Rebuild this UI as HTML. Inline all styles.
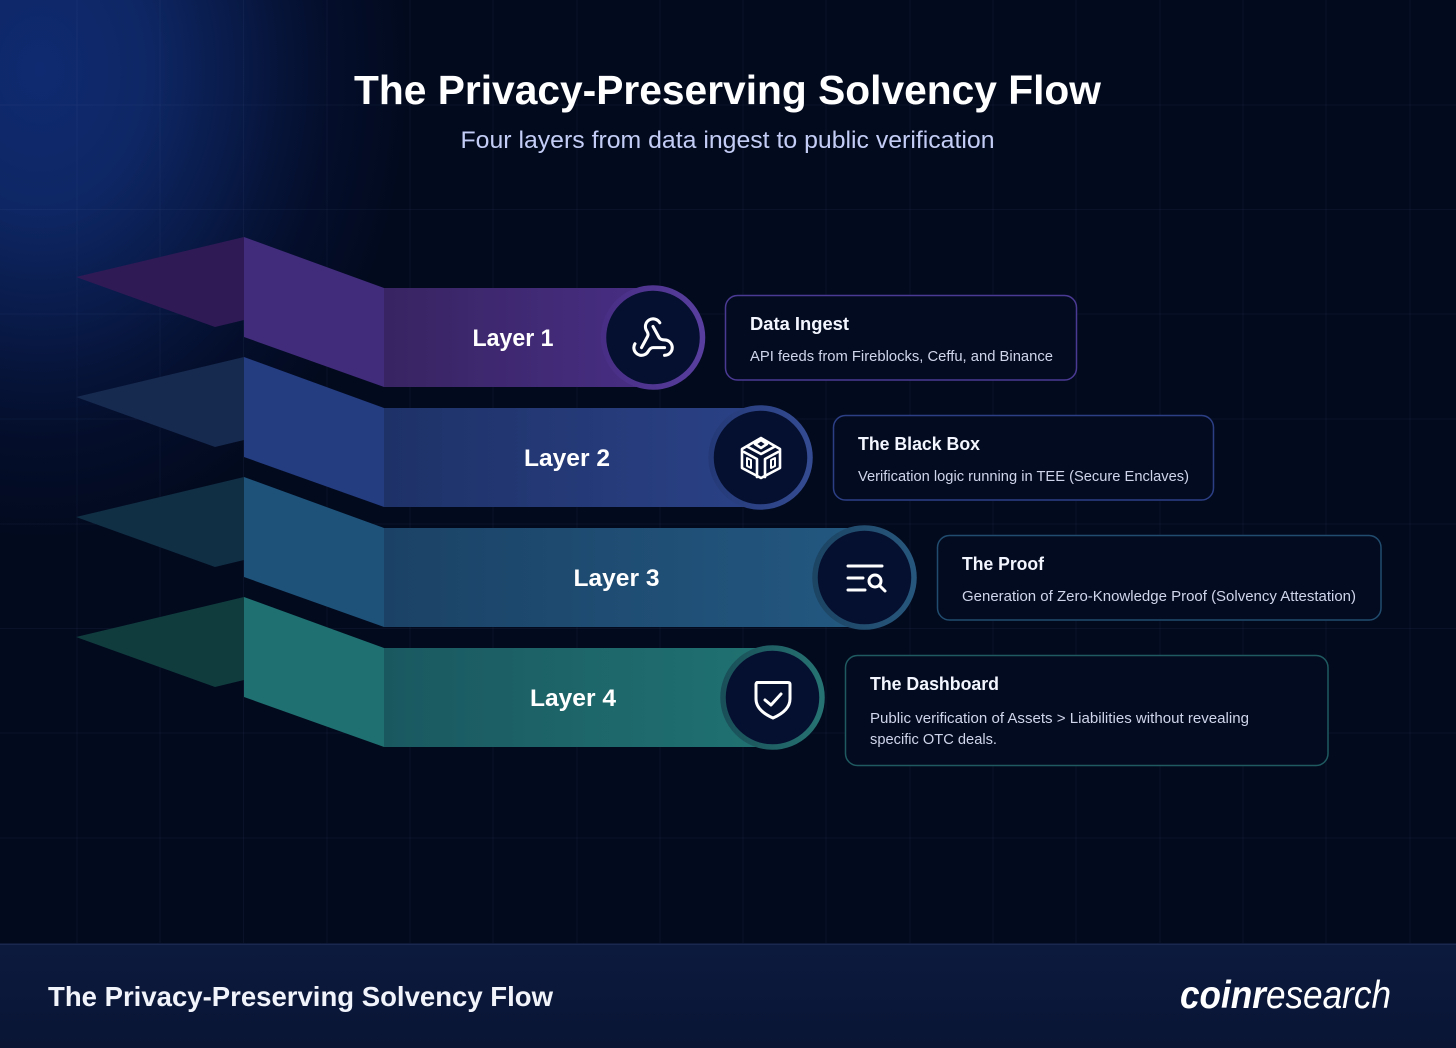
<!DOCTYPE html>
<html><head><meta charset="utf-8"><style>
html,body{margin:0;padding:0;background:#020a1e}
svg{display:block}
text{font-family:"Liberation Sans",sans-serif}
.l{font-size:24px;font-weight:700;fill:#fff;text-anchor:middle}
.t{font-size:18.5px;font-weight:700;fill:#f4f6ff}
.d{font-size:14.5px;fill:#cfd5ea}
.i{fill:none;stroke:#fff;stroke-width:3;stroke-linecap:round;stroke-linejoin:round}
</style></head><body>
<svg width="1456" height="1048" viewBox="0 0 1456 1048" xmlns="http://www.w3.org/2000/svg">
<defs>
<radialGradient id="glow" gradientUnits="userSpaceOnUse" cx="0" cy="0" r="1" gradientTransform="translate(40 70) scale(370 470)">
<stop offset="0" stop-color="#0f2a70"/><stop offset=".3" stop-color="#0f2a6c" stop-opacity=".9"/><stop offset=".55" stop-color="#0d2462" stop-opacity=".6"/><stop offset=".8" stop-color="#0a1a50" stop-opacity=".24"/><stop offset="1" stop-color="#0a1a50" stop-opacity="0"/>
</radialGradient>
<linearGradient id="foot" x1="0" y1="0" x2="0" y2="1"><stop offset="0" stop-color="#0c1a3e"/><stop offset="1" stop-color="#0a1534"/></linearGradient>
<linearGradient id="b1" x1="0" x2="1" y1="0" y2="0"><stop offset="0" stop-color="#382462"/><stop offset="1" stop-color="#482e84"/></linearGradient>
<linearGradient id="b2" x1="0" x2="1" y1="0" y2="0"><stop offset="0" stop-color="#1e3268"/><stop offset="1" stop-color="#2a4186"/></linearGradient>
<linearGradient id="b3" x1="0" x2="1" y1="0" y2="0"><stop offset="0" stop-color="#1b4266"/><stop offset="1" stop-color="#235880"/></linearGradient>
<linearGradient id="b4" x1="0" x2="1" y1="0" y2="0"><stop offset="0" stop-color="#1a5860"/><stop offset="1" stop-color="#207272"/></linearGradient>
<linearGradient id="r1" x1="0" x2="1" y1="0" y2="0"><stop offset="0" stop-color="#482e84"/><stop offset="1" stop-color="#583e9e"/></linearGradient>
<linearGradient id="r2" x1="0" x2="1" y1="0" y2="0"><stop offset="0" stop-color="#243a78"/><stop offset="1" stop-color="#344b92"/></linearGradient>
<linearGradient id="r3" x1="0" x2="1" y1="0" y2="0"><stop offset="0" stop-color="#1c4463"/><stop offset="1" stop-color="#27567c"/></linearGradient>
<linearGradient id="r4" x1="0" x2="1" y1="0" y2="0"><stop offset="0" stop-color="#194f58"/><stop offset="1" stop-color="#267272"/></linearGradient>
</defs>
<rect width="1456" height="1048" fill="#020a1e"/>
<rect width="520" height="560" fill="url(#glow)"/>
<g stroke="#8ea4e0" stroke-opacity=".055" stroke-width="1">
<path d="M77 0V943M160 0V943M243.500 0V943M327 0V943M410 0V943M493 0V943M577 0V943M660 0V943M743 0V943M826 0V943M910 0V943M993 0V943M1076 0V943M1160 0V943M1243 0V943M1326 0V943M1410 0V943"/>
<path d="M0 105H1456M0 209.500H1456M0 314H1456M0 419H1456M0 524H1456M0 628.500H1456M0 733H1456M0 838H1456"/>
</g>

<text x="727.500" y="104" text-anchor="middle" font-size="41" font-weight="700" fill="#fff" textLength="747" lengthAdjust="spacingAndGlyphs">The Privacy-Preserving Solvency Flow</text>
<text x="727.500" y="148" text-anchor="middle" font-size="24" fill="#c3cdf5" textLength="534" lengthAdjust="spacingAndGlyphs">Four layers from data ingest to public verification</text>

<!-- Layer 1 -->
<polygon points="76,277 244,237 244,320 215,327" fill="#2f1a56"/>
<polygon points="244,237 384,288 384,387 244,337" fill="#412b7b"/>
<rect x="384" y="288" width="269" height="99" fill="url(#b1)"/>
<circle cx="653" cy="337.500" r="49.500" fill="#050f30" stroke="url(#r1)" stroke-width="5.500"/>
<text class="l" x="513" y="346" textLength="81" lengthAdjust="spacingAndGlyphs">Layer 1</text>
<g class="i" transform="translate(630 315) scale(1.92)" style="stroke-width:1.6">
<path d="M18 16.98h-5.99c-1.100 0-1.950.94-2.480 1.900A4 4 0 0 1 2 17c.01-.7.2-1.400.57-2"/>
<path d="m6 17 3.130-5.780c.53-.97.1-2.180-.5-3.100a4 4 0 1 1 6.890-4.060"/>
<path d="m12 6 3.130 5.730C15.660 12.700 16.900 13 18 13a4 4 0 0 1 0 8"/>
</g>
<rect x="725.500" y="295.500" width="351" height="84.500" rx="12" fill="#030b20" stroke="#4b3a94" stroke-width="1.500"/>
<text class="t" x="750" y="330" textLength="99" lengthAdjust="spacingAndGlyphs">Data Ingest</text>
<text class="d" x="750" y="361" textLength="303" lengthAdjust="spacingAndGlyphs">API feeds from Fireblocks, Ceffu, and Binance</text>

<!-- Layer 2 -->
<polygon points="76,397 244,357 244,440 215,447" fill="#16294f"/>
<polygon points="244,357 384,408 384,507 244,457" fill="#243c80"/>
<rect x="384" y="408" width="376" height="99" fill="url(#b2)"/>
<circle cx="760.500" cy="457.500" r="49.500" fill="#050f30" stroke="url(#r2)" stroke-width="5.500"/>
<text class="l" x="567" y="466" textLength="86" lengthAdjust="spacingAndGlyphs">Layer 2</text>
<g class="i" style="stroke-width:2.600">
<path d="M761 438L780 449V468L761 478L742 468V449Z"/>
<path d="M761 440L767 444L761 448L755 444Z"/>
<path d="M748 447L761 454L774 447M757 477V459L744 452M765 477V459L778 452"/>
<path d="M747 458L751 460V468L747 466ZM775 458L771 460V468L775 466Z" stroke-width="2"/>
</g>
<rect x="833.500" y="415.500" width="380" height="84.500" rx="12" fill="#030b20" stroke="#2c3f85" stroke-width="1.500"/>
<text class="t" x="858" y="450" textLength="122" lengthAdjust="spacingAndGlyphs">The Black Box</text>
<text class="d" x="858" y="481" textLength="331" lengthAdjust="spacingAndGlyphs">Verification logic running in TEE (Secure Enclaves)</text>

<!-- Layer 3 -->
<polygon points="76,517 244,477 244,560 215,567" fill="#102e44"/>
<polygon points="244,477 384,528 384,627 244,577" fill="#1e5279"/>
<rect x="384" y="528" width="480" height="99" fill="url(#b3)"/>
<circle cx="864.500" cy="577.500" r="49.500" fill="#050f30" stroke="url(#r3)" stroke-width="5.500"/>
<text class="l" x="616.500" y="586" textLength="86" lengthAdjust="spacingAndGlyphs">Layer 3</text>
<g class="i">
<path d="M848 566H882M848 578H863M848 590H865"/>
<circle cx="875" cy="581" r="6"/><path d="M880 586L885 591"/>
</g>
<rect x="937.500" y="535.500" width="443.500" height="84.500" rx="12" fill="#030b20" stroke="#214c6e" stroke-width="1.500"/>
<text class="t" x="962" y="570" textLength="82" lengthAdjust="spacingAndGlyphs">The Proof</text>
<text class="d" x="962" y="601" textLength="394" lengthAdjust="spacingAndGlyphs">Generation of Zero-Knowledge Proof (Solvency Attestation)</text>

<!-- Layer 4 -->
<polygon points="76,637 244,597 244,680 215,687" fill="#103c3e"/>
<polygon points="244,597 384,648 384,747 244,697" fill="#1f7070"/>
<rect x="384" y="648" width="389" height="99" fill="url(#b4)"/>
<circle cx="772.500" cy="697.500" r="49.500" fill="#050f30" stroke="url(#r4)" stroke-width="5.500"/>
<text class="l" x="573" y="706" textLength="86" lengthAdjust="spacingAndGlyphs">Layer 4</text>
<g class="i">
<path d="M757 682.500H788Q790 682.500 790 684.500V699C790 708 782 714 773 718C764 714 756 708 756 699V684.500Q756 682.500 758 682.500Z"/>
<path d="M765 700L771 705L781 694"/>
</g>
<rect x="845.500" y="655.500" width="482.500" height="110" rx="12" fill="#030b20" stroke="#1f5a60" stroke-width="1.500"/>
<text class="t" x="870" y="690" textLength="129" lengthAdjust="spacingAndGlyphs">The Dashboard</text>
<text class="d" x="870" y="723" textLength="379" lengthAdjust="spacingAndGlyphs">Public verification of Assets &gt; Liabilities without revealing</text>
<text class="d" x="870" y="744" textLength="127" lengthAdjust="spacingAndGlyphs">specific OTC deals.</text>

<!-- Footer -->
<rect x="0" y="944" width="1456" height="104" fill="url(#foot)"/>
<rect x="0" y="943.500" width="1456" height="1.500" fill="#1a2850"/>
<text x="48" y="1006" font-size="28" font-weight="700" fill="#f2f4fc" textLength="505" lengthAdjust="spacingAndGlyphs">The Privacy-Preserving Solvency Flow</text>
<text x="1180" y="1008" font-size="39" font-style="italic" fill="#fff" textLength="211" lengthAdjust="spacingAndGlyphs"><tspan font-weight="700">coinr</tspan><tspan>esearch</tspan></text>
</svg>
</body></html>
